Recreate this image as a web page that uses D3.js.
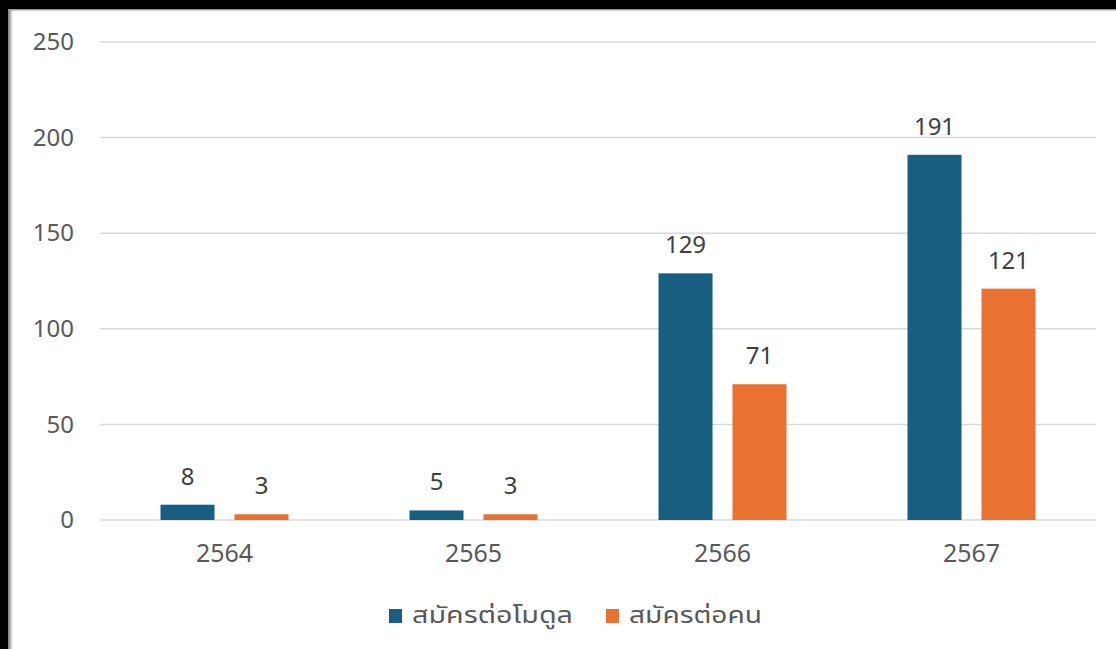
<!DOCTYPE html>
<html>
<head>
<meta charset="utf-8">
<script src="https://cdn.jsdelivr.net/npm/d3@7"></script>
<style>
  html, body { margin: 0; padding: 0; background: #fff; }
  svg { display: block; font-family: "Noto Sans", "Noto Sans Thai", sans-serif; }
</style>
</head>
<body>
<div id="chart"></div>
<script>
const years = ['2564', '2565', '2566', '2567'];
const seriesNames = ['สมัครต่อโมดูล', 'สมัครต่อคน'];
const perModule = [8, 5, 129, 191];
const perPerson = [3, 3, 71, 121];
const yTicks = [0, 50, 100, 150, 200, 250];
const colors = ['#175E80', '#E97132'];

const W = 1116, H = 649;
const plot = { left: 100, right: 1096, top: 42, bottom: 520 };

const svg = d3.select('#chart').append('svg')
    .attr('width', W)
    .attr('height', H);

svg.append('rect').attr('width', W).attr('height', H).attr('fill', '#fff');

// frame of the screenshot: black top and left edges with a soft shadow
const shadow = svg.append('defs').append('linearGradient').attr('id', 'shade');
shadow.append('stop').attr('offset', '0%').attr('stop-color', '#777');
shadow.append('stop').attr('offset', '100%').attr('stop-color', '#fff');
svg.append('rect').attr('x', 8).attr('y', 0).attr('width', 5).attr('height', H).attr('fill', 'url(#shade)');
svg.append('rect').attr('x', 0).attr('y', 0).attr('width', 8).attr('height', H).attr('fill', '#000');
svg.append('rect').attr('x', 0).attr('y', 0).attr('width', W).attr('height', 9).attr('fill', '#000');
svg.append('rect').attr('x', 8).attr('y', 9).attr('width', W).attr('height', 1.5).attr('fill', '#999');

const x = d3.scaleBand().domain(years).range([plot.left, plot.right]);
const y = d3.scaleLinear().domain([0, 250]).range([plot.bottom, plot.top]);
const inner = d3.scaleBand().domain([0, 1]).range([-64, 64]).paddingInner(0.27);

// gridlines
svg.append('g')
    .selectAll('line')
    .data(yTicks)
    .join('line')
    .attr('x1', plot.left)
    .attr('x2', plot.right)
    .attr('y1', d => y(d))
    .attr('y2', d => y(d))
    .attr('stroke', '#d9d9d9')
    .attr('stroke-width', 1.5);

// y axis labels
const yAxis = svg.append('g')
    .attr('transform', `translate(${74},0)`)
    .call(d3.axisLeft(y).tickValues(yTicks).tickSize(0).tickPadding(0))
    .attr('font-family', null)
    .attr('font-size', null);
yAxis.select('.domain').remove();
yAxis.selectAll('text')
    .attr('font-size', 24)
    .attr('fill', '#595959');

// x axis labels
const xAxis = svg.append('g')
    .attr('transform', `translate(0,${plot.bottom})`)
    .call(d3.axisBottom(x).tickSize(0).tickPadding(24))
    .attr('font-family', null)
    .attr('font-size', null);
xAxis.select('.domain').remove();
xAxis.selectAll('text')
    .attr('font-size', 25)
    .attr('fill', '#595959');

// bars
const series = [perModule, perPerson];
series.forEach((vals, s) => {
    const g = svg.append('g');
    g.selectAll('rect')
        .data(vals)
        .join('rect')
        .attr('x', (d, i) => x(years[i]) + x.bandwidth() / 2 + inner(s))
        .attr('y', d => y(d))
        .attr('width', inner.bandwidth())
        .attr('height', d => y(0) - y(d))
        .attr('fill', colors[s]);
    g.selectAll('text')
        .data(vals)
        .join('text')
        .attr('x', (d, i) => x(years[i]) + x.bandwidth() / 2 + inner(s) + inner.bandwidth() / 2)
        .attr('y', d => y(d) - 20)
        .attr('text-anchor', 'middle')
        .attr('font-size', 24)
        .attr('fill', '#404040')
        .text(d => d);
});

// legend
const legendItems = [{ x: 389, w: 161 }, { x: 606, w: 133 }];
const legend = svg.append('g');
legendItems.forEach((it, i) => {
    legend.append('rect')
        .attr('x', it.x)
        .attr('y', 609)
        .attr('width', 13)
        .attr('height', 14)
        .attr('fill', colors[i]);
    legend.append('text')
        .attr('x', it.x + 23)
        .attr('y', 623)
        .attr('font-size', 23)
        .attr('textLength', it.w)
        .attr('lengthAdjust', 'spacingAndGlyphs')
        .attr('fill', '#595959')
        .text(seriesNames[i]);
});
</script>
</body>
</html>
